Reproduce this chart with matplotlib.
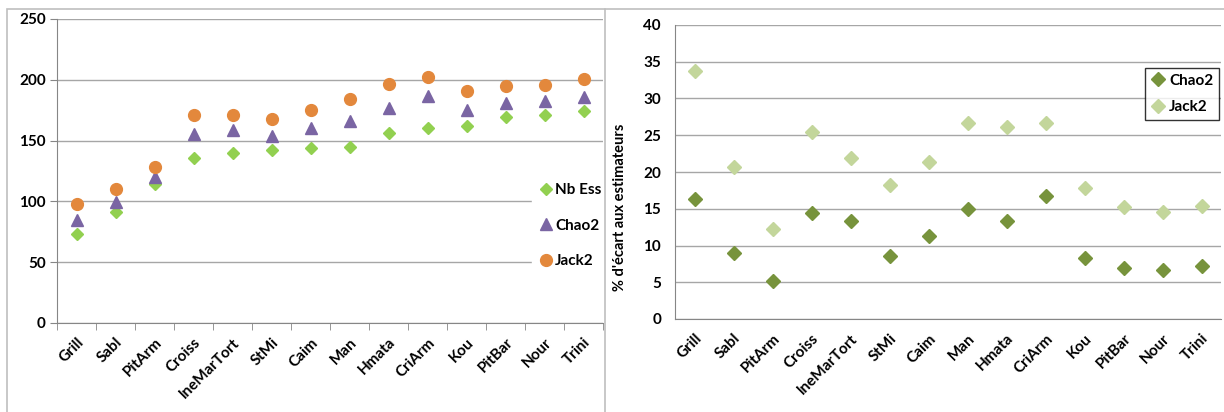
import matplotlib.pyplot as plt
from matplotlib.patches import Rectangle
from matplotlib.lines import Line2D

plt.rcParams['font.family'] = ['Lato', 'DejaVu Sans']
plt.rcParams['font.weight'] = 'bold'
plt.rcParams['axes.labelweight'] = 'bold'

sites = ['Grill', 'Sabl', 'PitArm', 'Croiss', 'IneMarTort', 'StMi', 'Caim',
         'Man', 'Hmata', 'CriArm', 'Kou', 'PitBar', 'Nour', 'Trini']

# left chart: species counts and estimators
nb_ess = [73, 91, 114, 136, 140, 142, 144, 145, 156, 160, 162, 169, 171, 174]
chao2 = [85, 99.5, 120, 155.5, 159, 154, 160, 166.5, 177, 187, 175.5, 181, 182.5, 186]
jack2 = [97.5, 110, 128, 171, 171, 168, 175, 184, 196.5, 202, 191, 195, 196, 201]

# right chart: % gap to estimators
pct_chao2 = [16.3, 9.0, 5.2, 14.4, 13.4, 8.6, 11.3, 14.9, 13.4, 16.7, 8.3, 7.0, 6.7, 7.2]
pct_jack2 = [33.7, 20.7, 12.3, 25.5, 21.9, 18.2, 21.3, 26.6, 26.1, 26.6, 17.8, 15.3, 14.6, 15.4]

GRID = '#a6a6a6'
AXIS = '#868686'

fig = plt.figure(figsize=(12.24, 4.12), dpi=100)
W, H = 1224, 412

def px(x0, y0, x1, y1):
    return [x0 / W, 1 - y1 / H, (x1 - x0) / W, (y1 - y0) / H]

# outer frames
fig.add_artist(Rectangle((7 / W, -0.05), (605 - 7) / W, 1.05 - 9 / H,
                         transform=fig.transFigure, fill=False, ec='#bfbfbf', lw=1.2))
fig.add_artist(Line2D([605 / W, 1], [1 - 9 / H, 1 - 9 / H],
                      transform=fig.transFigure, color='#bfbfbf', lw=1.2))

x = list(range(len(sites)))

# ---- left chart
ax1 = fig.add_axes(px(57, 19, 603, 323))
ax1.set_xlim(-0.5, len(sites) - 0.5)
ax1.set_ylim(0, 250)
ax1.set_yticks(range(0, 251, 50))
ax1.yaxis.grid(True, color=GRID, lw=1)
ax1.set_axisbelow(True)
ax1.plot(x, nb_ess, 'D', color='#92d050', ms=6, label='Nb Ess', zorder=3)
ax1.plot(x, chao2, '^', color='#7a65a3', ms=8.5, label='Chao2', zorder=3)
ax1.plot(x, jack2, 'o', color='#e3883c', ms=8.5, label='Jack2', zorder=3)
for s in ['top', 'right']:
    ax1.spines[s].set_visible(False)
for s in ['left', 'bottom']:
    ax1.spines[s].set_color(AXIS)
ax1.tick_params(axis='y', length=5, color=AXIS, labelsize=11, pad=3)
ax1.set_xticks(x)
ax1.set_xticklabels(sites, rotation=45, ha='right', va='top', rotation_mode='anchor')
ax1.tick_params(axis='x', which='major', length=0, labelsize=11, pad=9)
ax1.set_xticks([i - 0.5 for i in range(len(sites) + 1)], minor=True)
ax1.tick_params(axis='x', which='minor', length=5, color=AXIS)
leg1 = ax1.legend(loc='center left', bbox_to_anchor=(0.87, 0.32), frameon=True,
                  fontsize=11, handletextpad=0.1, labelspacing=1.4, handlelength=1.0,
                  borderaxespad=0, borderpad=0.4)
leg1.get_frame().set_edgecolor('white')
leg1.get_frame().set_facecolor('white')
leg1.get_frame().set_alpha(1)

# ---- right chart
ax2 = fig.add_axes(px(675, 25, 1221, 319))
ax2.set_xlim(-0.5, len(sites) - 0.5)
ax2.set_ylim(0, 40)
ax2.set_yticks(range(0, 41, 5))
ax2.yaxis.grid(True, color=GRID, lw=1)
ax2.set_axisbelow(True)
ax2.plot(x, pct_chao2, 'D', color='#77933c', ms=7.5, label='Chao2', zorder=3)
ax2.plot(x, pct_jack2, 'D', color='#c3d69b', ms=7.5, label='Jack2', zorder=3)
for s in ['top', 'right']:
    ax2.spines[s].set_visible(False)
for s in ['left', 'bottom']:
    ax2.spines[s].set_color(AXIS)
ax2.tick_params(axis='y', length=0, labelsize=11, pad=10)
ax2.set_xticks(x)
ax2.set_xticklabels(sites, rotation=45, ha='right', va='top', rotation_mode='anchor')
ax2.tick_params(axis='x', length=0, labelsize=11, pad=9)
ax2.set_ylabel("% d'écart aux estimateurs", fontsize=10.5)
ax2.yaxis.set_label_coords(-0.088, 0.38)
leg2 = ax2.legend(loc='upper right', bbox_to_anchor=(0.997, 0.855), frameon=True,
                  fontsize=11, handletextpad=0.2, labelspacing=0.8, handlelength=1.0,
                  borderaxespad=0, fancybox=False, borderpad=0.4)
leg2.get_frame().set_edgecolor('black')
leg2.get_frame().set_linewidth(1.0)

fig.savefig('out.png', dpi=100)
